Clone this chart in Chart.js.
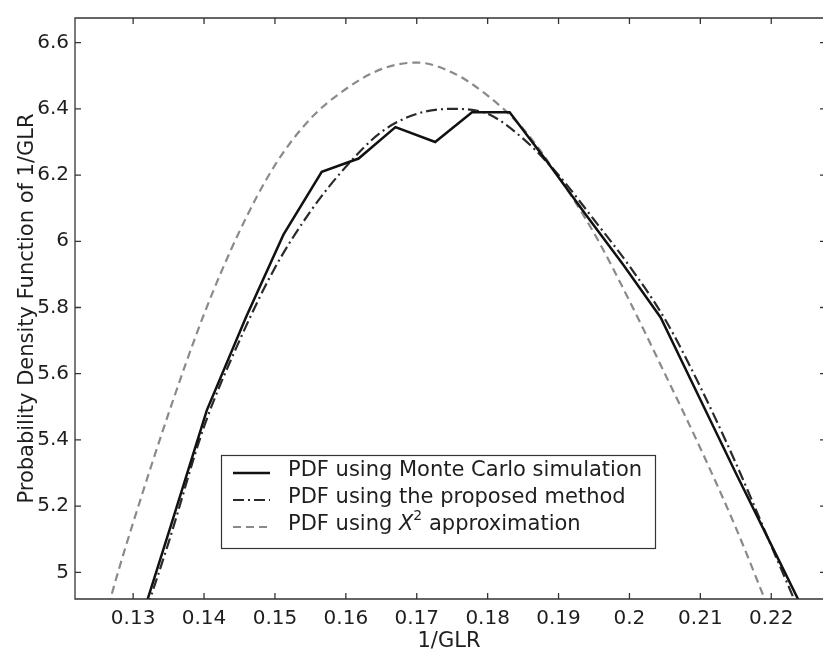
<!DOCTYPE html>
<html>
<head>
<meta charset="utf-8">
<script src="https://cdn.jsdelivr.net/npm/chart.js@4.4.1/dist/chart.umd.min.js"></script>
<style>
    html, body { margin: 0; padding: 0; background: #fff; }
    #wrap { width: 823px; height: 654px; }
</style>
</head>
<body>
<div id="wrap"><canvas id="pdfChart" width="823" height="654"></canvas></div>
<script>
// Monte Carlo PDF (piecewise linear)
const mcX = [0.1300, 0.1353, 0.1404, 0.1459, 0.1512, 0.1566, 0.1618, 0.1670, 0.1726, 0.1778, 0.1831, 0.1884, 0.1937, 0.1991, 0.2044, 0.2097, 0.2150, 0.2203, 0.2256];
const mcY = [4.78, 5.14, 5.49, 5.77, 6.02, 6.21, 6.25, 6.345, 6.30, 6.39, 6.39, 6.24, 6.085, 5.93, 5.77, 5.535, 5.30, 5.07, 4.84];

// proposed method
const propX = [0.131, 0.135, 0.14, 0.145, 0.15, 0.155, 0.16, 0.165, 0.17, 0.175, 0.18, 0.185, 0.19, 0.195, 0.2, 0.205, 0.21, 0.215, 0.22, 0.225];
const propY = [4.83, 5.09, 5.44, 5.70, 5.92, 6.09, 6.225, 6.33, 6.385, 6.40, 6.385, 6.31, 6.20, 6.065, 5.925, 5.765, 5.56, 5.33, 5.08, 4.83];

// chi-square approximation
const chiX = [0.126, 0.128, 0.13, 0.135, 0.14, 0.145, 0.15, 0.155, 0.16, 0.165, 0.17, 0.175, 0.18, 0.185, 0.19, 0.195, 0.2, 0.205, 0.21, 0.215, 0.22];
const chiY = [4.86, 5.01, 5.15, 5.48, 5.78, 6.03, 6.23, 6.37, 6.46, 6.52, 6.54, 6.51, 6.44, 6.34, 6.195, 6.025, 5.82, 5.60, 5.375, 5.135, 4.87];

const xTicks = [0.13, 0.14, 0.15, 0.16, 0.17, 0.18, 0.19, 0.2, 0.21, 0.22];
const yTicks = [5, 5.2, 5.4, 5.6, 5.8, 6, 6.2, 6.4, 6.6];

const seriesLabels = ['PDF using Monte Carlo simulation', 'PDF using the proposed method', 'PDF using X² approximation'];

const FONT = 'DejaVu Sans';
const TEXT = '#1e1e1e';

function toPoints(xs, ys) {
    return xs.map(function (x, i) { return { x: x, y: ys[i] }; });
}

// MATLAB style box with inward ticks
const boxTicks = {
    id: 'boxTicks',
    afterDraw: function (chart) {
        const ctx = chart.ctx;
        const a = chart.chartArea;
        const xs = chart.scales.x, ys = chart.scales.y;
        const len = 6;
        ctx.save();
        ctx.strokeStyle = '#333';
        ctx.lineWidth = 1.3;
        ctx.setLineDash([]);
        ctx.beginPath();
        ctx.moveTo(a.right, a.top);
        ctx.lineTo(a.left, a.top);
        ctx.lineTo(a.left, a.bottom);
        ctx.lineTo(a.right, a.bottom);
        xTicks.forEach(function (v) {
            const px = xs.getPixelForValue(v);
            ctx.moveTo(px, a.bottom); ctx.lineTo(px, a.bottom - len);
            ctx.moveTo(px, a.top); ctx.lineTo(px, a.top + len);
        });
        yTicks.forEach(function (v) {
            const py = ys.getPixelForValue(v);
            ctx.moveTo(a.left, py); ctx.lineTo(a.left + len, py);
            ctx.moveTo(a.right, py); ctx.lineTo(a.right - 3, py);
        });
        ctx.stroke();
        ctx.restore();
    }
};

// boxed legend inside the plot
const boxLegend = {
    id: 'boxLegend',
    afterDatasetsDraw: function (chart) {
        const ctx = chart.ctx;
        const bx = 221, by = 455, bw = 434, bh = 93;
        ctx.save();
        ctx.fillStyle = '#fff';
        ctx.fillRect(bx, by, bw, bh);
        ctx.strokeStyle = '#333';
        ctx.lineWidth = 1.2;
        ctx.setLineDash([]);
        ctx.strokeRect(bx + 0.5, by + 0.5, bw, bh);

        chart.data.datasets.forEach(function (ds, i) {
            const base = 476 + i * 27;
            ctx.strokeStyle = ds.borderColor;
            ctx.lineWidth = ds.borderWidth;
            ctx.setLineDash(ds.borderDash || []);
            ctx.beginPath();
            ctx.moveTo(233, base - 3);
            ctx.lineTo(270, base - 3);
            ctx.stroke();

            ctx.fillStyle = TEXT;
            ctx.textBaseline = 'alphabetic';
            ctx.textAlign = 'left';
            const label = ds.label;
            const k = label.indexOf('X²');
            let tx = 288;
            if (k < 0) {
                ctx.font = '21px "' + FONT + '"';
                ctx.fillText(label, tx, base);
            } else {
                const pre = label.slice(0, k), post = label.slice(k + 2);
                ctx.font = '21px "' + FONT + '"';
                ctx.fillText(pre, tx, base);
                tx += ctx.measureText(pre).width;
                ctx.font = 'italic 21px "' + FONT + '"';
                ctx.fillText('X', tx, base);
                tx += ctx.measureText('X').width;
                ctx.font = '14px "' + FONT + '"';
                ctx.fillText('2', tx, base - 10);
                tx += ctx.measureText('2').width;
                ctx.font = '21px "' + FONT + '"';
                ctx.fillText(post, tx, base);
            }
        });
        ctx.restore();
    }
};

const ctx = document.getElementById('pdfChart');
new Chart(ctx, {
    type: 'line',
    data: {
        datasets: [{
            label: seriesLabels[0],
            data: toPoints(mcX, mcY),
            borderColor: '#111',
            borderWidth: 2.5,
            tension: 0,
            pointRadius: 0
        }, {
            label: seriesLabels[1],
            data: toPoints(propX, propY),
            borderColor: '#2a2a2a',
            borderWidth: 2.2,
            borderDash: [11, 4, 2, 4],
            cubicInterpolationMode: 'monotone',
            pointRadius: 0
        }, {
            label: seriesLabels[2],
            data: toPoints(chiX, chiY),
            borderColor: '#8a8a8a',
            borderWidth: 2.2,
            borderDash: [8, 5],
            cubicInterpolationMode: 'monotone',
            pointRadius: 0
        }]
    },
    options: {
        responsive: false,
        animation: false,
        devicePixelRatio: 1,
        layout: { padding: { top: 10, right: 0, bottom: 0, left: 0 } },
        plugins: {
            legend: { display: false },
            tooltip: { enabled: false }
        },
        scales: {
            x: {
                type: 'linear',
                min: 0.1218,
                max: 0.2273,
                grid: { display: false, drawTicks: false },
                border: { display: false },
                afterBuildTicks: function (s) { s.ticks = xTicks.map(function (v) { return { value: v }; }); },
                afterFit: function (s) { s.height = 55; },
                ticks: {
                    autoSkip: false,
                    maxRotation: 0,
                    padding: 8,
                    color: TEXT,
                    font: { family: FONT, size: 20 },
                    callback: function (v) { return String(Number(v.toFixed(2))); }
                },
                title: {
                    display: true,
                    text: '1/GLR',
                    color: TEXT,
                    font: { family: FONT, size: 21 },
                    padding: { top: 0, bottom: 0 }
                }
            },
            y: {
                min: 4.9195,
                max: 6.6745,
                grid: { display: false, drawTicks: false },
                border: { display: false },
                afterBuildTicks: function (s) { s.ticks = yTicks.map(function (v) { return { value: v }; }); },
                afterFit: function (s) { s.width = 75; },
                ticks: {
                    autoSkip: false,
                    padding: 6,
                    color: TEXT,
                    font: { family: FONT, size: 20 },
                    callback: function (v) { return String(Number(v.toFixed(1))); }
                },
                title: {
                    display: true,
                    text: 'Probability Density Function of 1/GLR',
                    color: TEXT,
                    font: { family: FONT, size: 21 },
                    padding: { top: 15, bottom: 0 }
                }
            }
        }
    },
    plugins: [boxLegend, boxTicks]
});
</script>
</body>
</html>
